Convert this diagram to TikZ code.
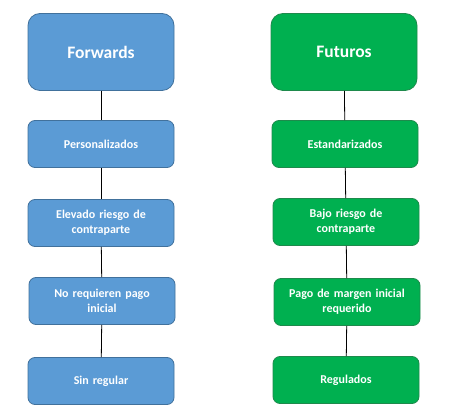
\documentclass[tikz,border=0pt]{standalone}
\usepackage{fontspec}
\setmainfont{Carlito}
\definecolor{fwdblue}{HTML}{5B9BD5}
\definecolor{fwdedge}{HTML}{41719C}
\definecolor{futgreen}{HTML}{00B050}
\definecolor{futedge}{HTML}{1E8A4C}
\begin{document}
\begin{tikzpicture}[x=1pt, y=-1pt,
    titlebox/.style={rounded corners=12pt, minimum width=146pt, minimum height=77pt,
        inner sep=0pt, text=white, font=\fontsize{17.5}{20}\selectfont\bfseries, line width=0.8pt},
    itembox/.style={rounded corners=7pt, minimum width=146pt, minimum height=47pt,
        inner sep=0pt, text width=140pt, align=center, text=white,
        font=\fontsize{12}{15}\selectfont\bfseries, line width=0.8pt},
    fwd/.style={fill=fwdblue, draw=fwdedge},
    fut/.style={fill=futgreen, draw=futedge},
    link/.style={line width=0.8pt}]
    \useasboundingbox (0,0) rectangle (450,419);

    % forwards column
    \node[titlebox, fwd] (forwards) at (101,52) {Forwards};
    \node[itembox, fwd] (personal) at (101,144) {Personalizados};
    \node[itembox, fwd] (elevado) at (101,223) {Elevado riesgo de\\contraparte};
    \node[itembox, fwd] (nopago) at (102,301) {No requieren pago\\inicial};
    \node[itembox, fwd] (sinreg) at (101,381) {Sin regular};

    % futuros column
    \node[titlebox, fut] (futuros) at (344,52) {Futuros};
    \node[itembox, fut] (estandar) at (345,144) {Estandarizados};
    \node[itembox, fut] (bajo) at (346,222) {Bajo riesgo de\\contraparte};
    \node[itembox, fut] (margen) at (347,302) {Pago de margen inicial\\requerido};
    \node[itembox, fut] (regul) at (346,380) {Regulados};

    \draw[link] (forwards) -- (personal);
    \draw[link] (personal) -- (elevado);
    \draw[link] (elevado) -- (nopago);
    \draw[link] (nopago) -- (sinreg);

    \draw[link] (futuros) -- (estandar);
    \draw[link] (estandar) -- (bajo);
    \draw[link] (bajo) -- (margen);
    \draw[link] (margen) -- (regul);
\end{tikzpicture}
\end{document}
